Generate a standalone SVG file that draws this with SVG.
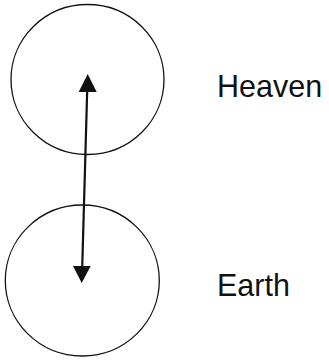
<svg xmlns="http://www.w3.org/2000/svg" width="329" height="360" viewBox="0 0 329 360">
<style>
.c{fill:none;stroke:#111;stroke-width:1.3}
.t{font-family:"Liberation Sans",Arial,sans-serif;font-size:30.5px;fill:#111}
.a{stroke:#111;stroke-width:2.2;fill:none}
</style>
<rect width="329" height="360" fill="#fff"/>
<g id="heaven">
<ellipse class="c" cx="87.5" cy="79.5" rx="76.5" ry="75"/>
<text class="t" x="217" y="96.7">Heaven</text>
</g>
<g id="earth">
<ellipse class="c" cx="82.3" cy="280.5" rx="77" ry="75.5"/>
<text class="t" x="217" y="295.7">Earth</text>
</g>
<g id="connectors">
<line class="a" x1="87.2" y1="90" x2="82.2" y2="268"/>
<polygon points="87.7,74 78.7,92 96.7,92" fill="#111"/>
<polygon points="81.7,283 73,266 90.7,266" fill="#111"/>
</g>
</svg>
